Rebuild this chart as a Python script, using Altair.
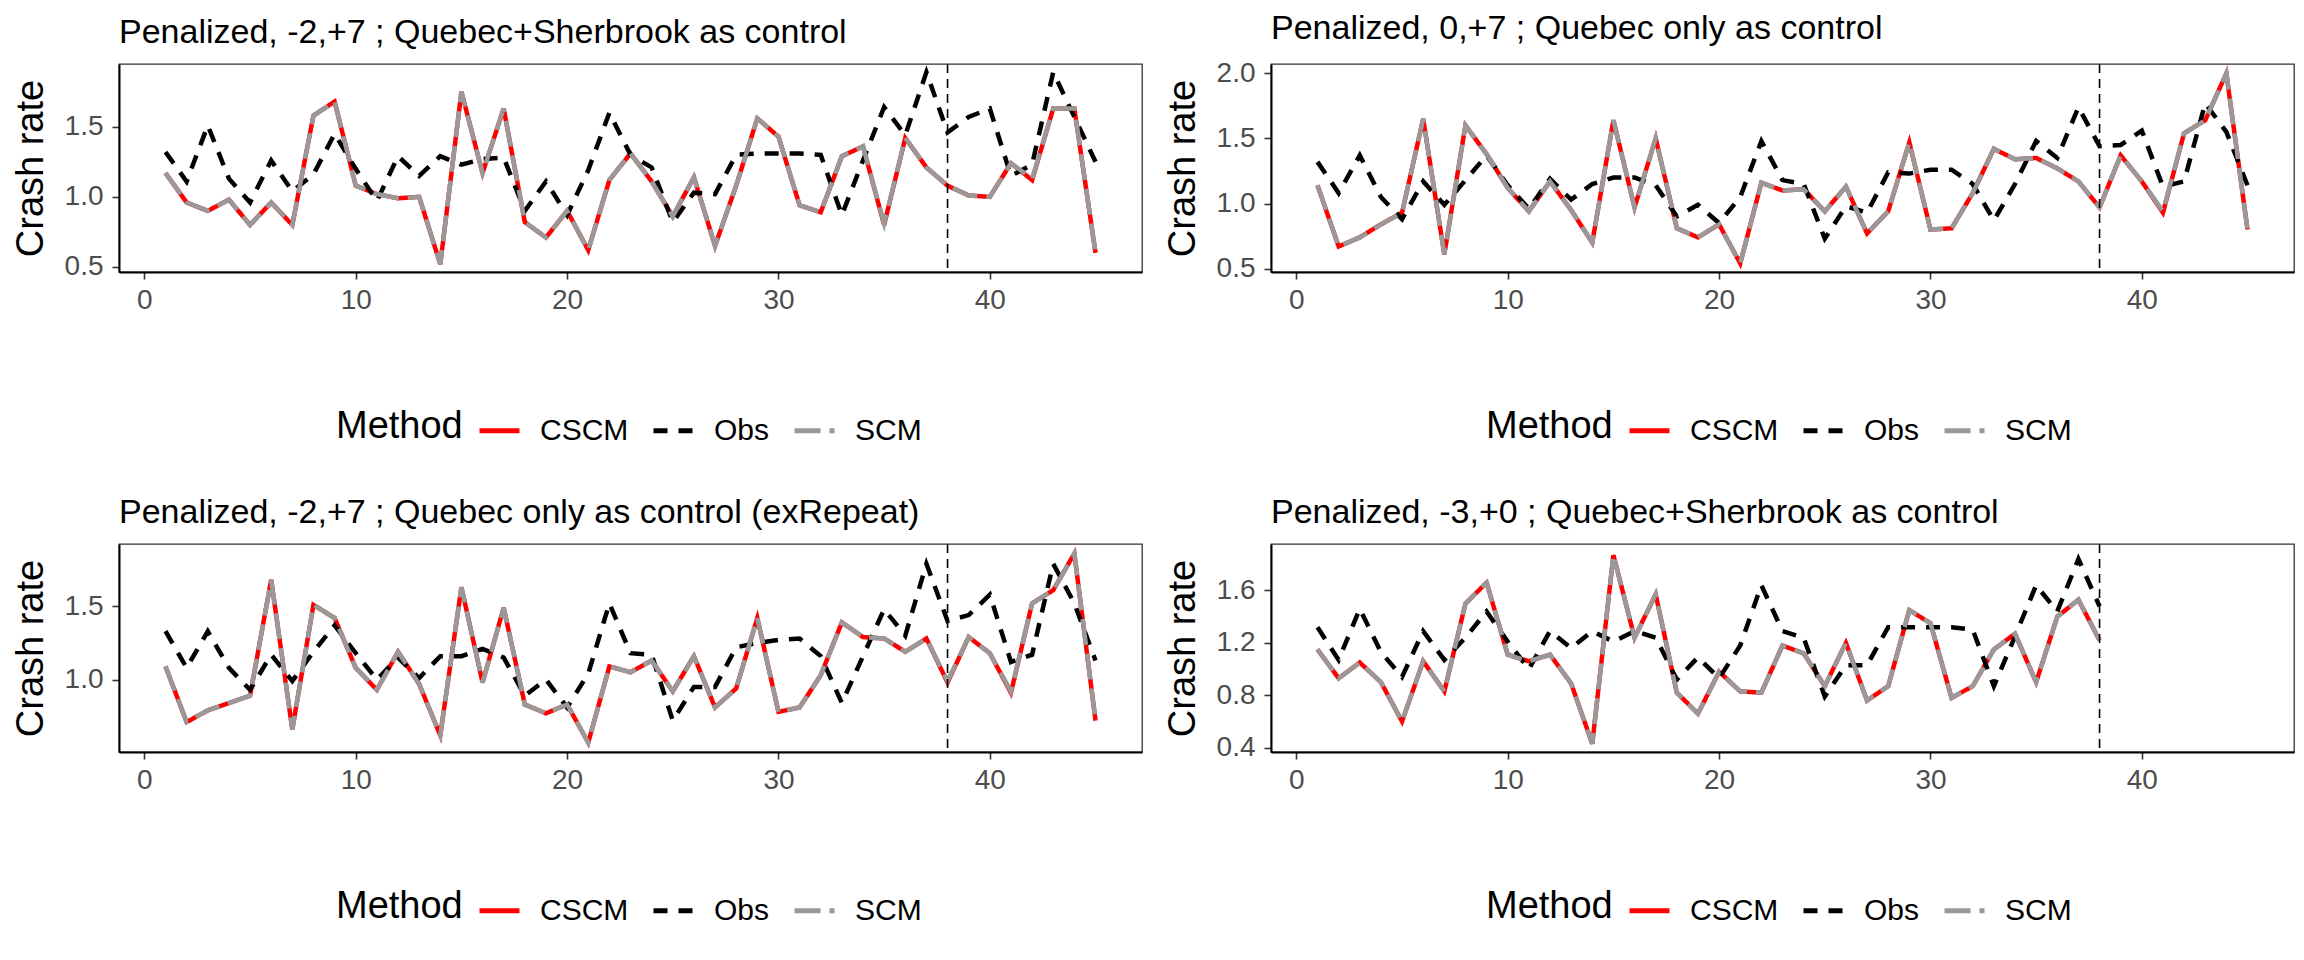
import altair as alt
import pandas as pd

FONT = "Liberation Sans"

methods = ["CSCM", "Obs", "SCM"]
method_colors = ["#FF0000", "#000000", "#999999"]
method_dashes = [[1, 0], [14, 11], [26, 9]]

t_full = list(range(1, 46))
t_short = list(range(1, 39))

# Panel 1: Penalized, -2,+7 ; Quebec+Sherbrook as control
p1_scm = [1.17, 0.96, 0.90, 0.98, 0.80, 0.96, 0.80, 1.58, 1.68, 1.08,
          1.02, 0.99, 1.00, 0.52, 1.75, 1.17, 1.63, 0.82, 0.71, 0.90,
          0.62, 1.12, 1.31, 1.11, 0.86, 1.14, 0.65, 1.08, 1.56, 1.43,
          0.94, 0.89, 1.29, 1.36, 0.81, 1.42, 1.21, 1.08, 1.01, 1.00,
          1.24, 1.13, 1.63, 1.63, 0.60]
p1_cscm = [1.17, 0.96, 0.90, 0.98, 0.80, 0.96, 0.80, 1.58, 1.68, 1.08,
           1.02, 0.99, 1.00, 0.52, 1.75, 1.17, 1.63, 0.82, 0.71, 0.90,
           0.62, 1.12, 1.31, 1.11, 0.86, 1.14, 0.65, 1.08, 1.56, 1.43,
           0.94, 0.89, 1.29, 1.36, 0.80, 1.42, 1.21, 1.08, 1.01, 1.00,
           1.24, 1.12, 1.63, 1.63, 0.60]
p1_obs = [1.32, 1.11, 1.51, 1.13, 0.96, 1.26, 1.04, 1.16, 1.45, 1.20,
          0.97, 1.29, 1.15, 1.29, 1.23, 1.27, 1.28, 0.90, 1.11, 0.87,
          1.19, 1.60, 1.30, 1.21, 0.82, 1.03, 1.02, 1.30, 1.31, 1.31,
          1.31, 1.30, 0.87, 1.26, 1.64, 1.44, 1.89, 1.46, 1.57, 1.63,
          1.15, 1.23, 1.89, 1.57, 1.25]

# Panel 2: Penalized, 0,+7 ; Quebec only as control
p2_scm = [1.14, 0.67, 0.74, 0.84, 0.93, 1.65, 0.61, 1.60, 1.38, 1.12,
          0.94, 1.17, 0.95, 0.70, 1.64, 0.97, 1.50, 0.81, 0.74, 0.84,
          0.54, 1.16, 1.10, 1.11, 0.94, 1.13, 0.77, 0.94, 1.47, 0.80,
          0.81, 1.08, 1.42, 1.34, 1.35, 1.27, 1.17, 0.97, 1.37, 1.17,
          0.94, 1.54, 1.64, 2.00, 0.80]
p2_cscm = [1.14, 0.67, 0.74, 0.84, 0.93, 1.65, 0.61, 1.60, 1.38, 1.12,
           0.94, 1.17, 0.95, 0.70, 1.64, 0.97, 1.50, 0.81, 0.74, 0.84,
           0.54, 1.16, 1.10, 1.11, 0.94, 1.13, 0.77, 0.94, 1.47, 0.80,
           0.81, 1.08, 1.42, 1.34, 1.35, 1.27, 1.17, 0.97, 1.37, 1.17,
           0.93, 1.54, 1.64, 2.00, 0.80]
p2_obs = [1.32, 1.08, 1.37, 1.05, 0.88, 1.17, 0.99, 1.18, 1.37, 1.14,
          0.96, 1.19, 1.03, 1.15, 1.20, 1.20, 1.14, 0.90, 0.99, 0.85,
          1.05, 1.48, 1.18, 1.15, 0.73, 0.98, 0.93, 1.24, 1.23, 1.26,
          1.26, 1.15, 0.87, 1.15, 1.48, 1.35, 1.74, 1.44, 1.45, 1.56,
          1.13, 1.17, 1.77, 1.55, 1.14]

# Panel 3: Penalized, -2,+7 ; Quebec only as control (exRepeat)
p3_scm = [1.09, 0.71, 0.79, 0.84, 0.89, 1.68, 0.66, 1.51, 1.42, 1.08,
          0.93, 1.19, 0.97, 0.62, 1.63, 0.98, 1.49, 0.83, 0.77, 0.83,
          0.57, 1.09, 1.05, 1.13, 0.92, 1.16, 0.81, 0.94, 1.42, 0.78,
          0.81, 1.03, 1.39, 1.29, 1.28, 1.19, 1.28, 0.99, 1.29, 1.18,
          0.92, 1.52, 1.61, 1.86, 0.72]
p3_cscm = [1.09, 0.71, 0.79, 0.84, 0.89, 1.68, 0.66, 1.51, 1.42, 1.08,
           0.93, 1.19, 0.97, 0.62, 1.63, 0.98, 1.49, 0.83, 0.77, 0.83,
           0.57, 1.09, 1.05, 1.13, 0.92, 1.16, 0.81, 0.94, 1.42, 0.78,
           0.81, 1.03, 1.39, 1.29, 1.28, 1.19, 1.28, 0.98, 1.29, 1.18,
           0.91, 1.52, 1.61, 1.86, 0.72]
p3_obs = [1.33, 1.08, 1.33, 1.08, 0.93, 1.17, 0.99, 1.19, 1.37, 1.18,
          1.00, 1.15, 1.01, 1.16, 1.16, 1.21, 1.15, 0.89, 1.00, 0.81,
          1.04, 1.52, 1.18, 1.17, 0.72, 0.95, 0.95, 1.22, 1.25, 1.27,
          1.28, 1.16, 0.84, 1.16, 1.48, 1.30, 1.79, 1.40, 1.44, 1.58,
          1.12, 1.17, 1.79, 1.52, 1.13]

# Panel 4: Penalized, -3,+0 ; Quebec+Sherbrook as control (periods 1-38)
p4_scm = [1.15, 0.93, 1.05, 0.90, 0.60, 1.06, 0.83, 1.50, 1.66, 1.11,
          1.06, 1.11, 0.89, 0.43, 1.87, 1.24, 1.57, 0.82, 0.66, 0.98,
          0.83, 0.82, 1.18, 1.12, 0.87, 1.20, 0.76, 0.87, 1.45, 1.35,
          0.78, 0.87, 1.15, 1.27, 0.90, 1.40, 1.53, 1.22]
p4_cscm = [1.15, 0.93, 1.05, 0.90, 0.60, 1.06, 0.83, 1.50, 1.66, 1.11,
           1.06, 1.11, 0.89, 0.43, 1.87, 1.24, 1.57, 0.82, 0.66, 0.98,
           0.83, 0.82, 1.18, 1.12, 0.87, 1.20, 0.76, 0.87, 1.45, 1.35,
           0.78, 0.87, 1.15, 1.27, 0.90, 1.40, 1.53, 1.22]
p4_obs = [1.32, 1.07, 1.46, 1.13, 0.94, 1.29, 1.07, 1.24, 1.44, 1.21,
          1.00, 1.29, 1.16, 1.29, 1.21, 1.29, 1.24, 0.92, 1.09, 0.93,
          1.18, 1.64, 1.29, 1.24, 0.79, 1.03, 1.03, 1.32, 1.32, 1.32,
          1.32, 1.30, 0.87, 1.25, 1.64, 1.44, 1.84, 1.48]

treatment_start = 38
x_ticks = [0, 10, 20, 30, 40]

titles = [
    "Penalized, -2,+7 ; Quebec+Sherbrook as control",
    "Penalized, 0,+7 ; Quebec only as control",
    "Penalized, -2,+7 ; Quebec only as control (exRepeat)",
    "Penalized, -3,+0 ; Quebec+Sherbrook as control",
]

PW, PH = 1023, 208


def make_panel(title, t, cscm, obs, scm, ydom, yticks, lx, ly):
    n = len(t)
    df = pd.DataFrame({
        "t": t * 3,
        "rate": cscm + obs + scm,
        "Method": ["CSCM"] * n + ["Obs"] * n + ["SCM"] * n,
    })
    leg = alt.Legend(
        title="Method", orient="none", legendX=lx, legendY=ly,
        direction="horizontal", titleOrient="left", titleAnchor="middle",
        symbolType="stroke", symbolSize=1600, symbolStrokeWidth=5,
        labelFontSize=30, titleFontSize=38, labelOffset=18, columnPadding=14,
        titlePadding=14, labelColor="black", titleColor="black",
        titleFontWeight="normal", labelFont=FONT, titleFont=FONT, padding=0,
    )
    xenc = alt.X("t:Q", scale=alt.Scale(domain=[-1.2, 47.2], nice=False, zero=False),
                 axis=alt.Axis(values=x_ticks, title=None, labelPadding=7))
    lines = alt.Chart(df).mark_line(strokeWidth=4.5, strokeCap="butt").encode(
        x=xenc,
        y=alt.Y("rate:Q", scale=alt.Scale(domain=ydom, nice=False, zero=False),
                axis=alt.Axis(values=yticks, title="Crash rate", format=".1f",
                              labelPadding=9, titlePadding=14)),
        color=alt.Color("Method:N", scale=alt.Scale(domain=methods, range=method_colors), legend=leg),
        strokeDash=alt.StrokeDash("Method:N", scale=alt.Scale(domain=methods, range=method_dashes), legend=leg),
    )
    vline = alt.Chart(pd.DataFrame({"t": [treatment_start]})).mark_rule(
        color="black", strokeWidth=1.6, strokeDash=[9, 6]
    ).encode(x="t:Q")
    return alt.layer(lines, vline).properties(
        width=PW, height=PH,
        title=alt.TitleParams(title, anchor="start", frame="group", offset=-14,
                              baseline="alphabetic", fontSize=34, font=FONT,
                              fontWeight="normal", color="black"),
    )


p1 = make_panel(titles[0], t_full, p1_cscm, p1_obs, p1_scm, [0.464, 1.948], [0.5, 1.0, 1.5], 217, 344)
p2 = make_panel(titles[1], t_full, p2_cscm, p2_obs, p2_scm, [0.474, 2.072], [0.5, 1.0, 1.5, 2.0], 215, 344)
p3 = make_panel(titles[2], t_full, p3_cscm, p3_obs, p3_scm, [0.506, 1.925], [1.0, 1.5], 217, 344)
p4 = make_panel(titles[3], t_short, p4_cscm, p4_obs, p4_scm, [0.367, 1.955], [0.4, 0.8, 1.2, 1.6], 215, 344)

res = dict(color="independent", strokeDash="independent", x="independent", y="independent")

row1 = alt.HConcatChart(hconcat=[p1, p2], spacing=129, bounds="flush").resolve_scale(**res).resolve_legend(color="independent", strokeDash="independent")
row2 = alt.HConcatChart(hconcat=[p3, p4], spacing=129, bounds="flush").resolve_scale(**res).resolve_legend(color="independent", strokeDash="independent")

chart = alt.VConcatChart(vconcat=[row1, row2], spacing=480, bounds="flush").resolve_scale(**res).resolve_legend(
    color="independent", strokeDash="independent"
).properties(
    padding={"left": 3, "top": 3, "right": 0, "bottom": 0},
    background="white",
).configure_axis(
    labelFont=FONT, labelFontSize=28, labelColor="#4D4D4D",
    tickColor="#333333", tickSize=7, tickWidth=1.6,
    domainColor="#000000", domainWidth=2,
    grid=False,
    titleFont=FONT, titleFontSize=38, titleColor="#000000", titleFontWeight="normal",
).configure_view(
    stroke="#333333", strokeWidth=1.3,
)

chart.save("out.html", embed_options={"renderer": "svg", "actions": False})
